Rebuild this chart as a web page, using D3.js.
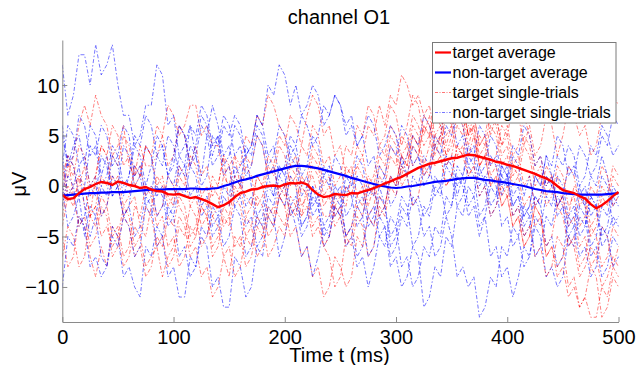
<!DOCTYPE html>
<html>
<head>
<meta charset="utf-8">
<script src="https://cdn.jsdelivr.net/npm/d3@7"></script>
<style>
  html, body { margin: 0; padding: 0; background: #fff; }
  svg { display: block; font-family: "Liberation Sans", Arial, sans-serif; }
</style>
</head>
<body>
<svg id="chart" width="638" height="365"></svg>
<script>
// ---------- data ----------
const title = "channel O1";
const xLabel = "Time t (ms)";
const yLabel = "\u03bcV";
const xTicks = [0, 100, 200, 300, 400, 500];
const yTicks = [-10, -5, 0, 5, 10];
const times = [0,5,10,15,20,25,30,35,40,45,50,55,60,65,70,75,80,85,90,95,
  100,105,110,115,120,125,130,135,140,145,150,155,160,165,170,175,180,185,190,195,
  200,205,210,215,220,225,230,235,240,245,250,255,260,265,270,275,280,285,290,295,
  300,305,310,315,320,325,330,335,340,345,350,355,360,365,370,375,380,385,390,395,
  400,405,410,415,420,425,430,435,440,445,450,455,460,465,470,475,480,485,490,495,500];

const targetAverage = [-0.9,-1.3,-1.2,-0.7,-0.3,-0.1,0.2,0.4,0.3,0.1,
  0.45,0.3,0.1,0.0,-0.2,-0.1,-0.35,-0.5,-0.55,-0.8,
  -0.85,-0.8,-1.0,-1.2,-1.1,-1.3,-1.5,-1.8,-2.1,-1.9,
  -1.6,-1.1,-0.7,-0.55,-0.35,-0.3,-0.1,0.0,0.05,-0.05,
  0.15,0.3,0.25,0.35,0.15,-0.4,-0.85,-1.1,-1.0,-0.8,
  -0.85,-0.9,-0.7,-0.75,-0.55,-0.4,-0.2,0.0,0.25,0.45,
  0.7,0.9,1.2,1.5,1.8,2.0,2.2,2.3,2.45,2.6,
  2.75,2.8,2.95,3.1,3.05,2.9,2.75,2.6,2.4,2.3,
  2.1,2.0,1.8,1.6,1.4,1.2,0.95,0.75,0.45,0.0,
  -0.4,-0.55,-0.7,-1.0,-1.25,-1.8,-2.2,-1.9,-1.5,-1.0,-0.6];
const nonTargetAverage = [-0.95,-0.9,-0.85,-0.8,-0.75,-0.7,-0.7,-0.65,-0.65,-0.6,
  -0.6,-0.6,-0.55,-0.5,-0.45,-0.4,-0.35,-0.35,-0.35,-0.3,
  -0.3,-0.3,-0.3,-0.25,-0.25,-0.3,-0.3,-0.25,-0.2,0.0,
  0.15,0.35,0.55,0.65,0.8,1.0,1.15,1.3,1.45,1.6,
  1.75,1.9,2.0,2.0,1.95,1.85,1.75,1.6,1.45,1.3,
  1.15,1.0,0.8,0.65,0.5,0.35,0.2,0.05,-0.05,-0.15,
  -0.2,-0.15,-0.05,0.0,0.1,0.2,0.3,0.4,0.45,0.5,
  0.6,0.7,0.75,0.8,0.8,0.7,0.6,0.55,0.45,0.4,
  0.3,0.2,0.1,0.0,-0.15,-0.3,-0.4,-0.5,-0.55,-0.6,
  -0.7,-0.75,-0.8,-0.85,-0.85,-0.85,-0.85,-0.85,-0.8,-0.75,-0.7];

const nonTarget1 = [12,7,9,13,13,10,14,11,12,14, 10,7,7,4,5,8,8,12,11,6, 7,3,4,6,3,1,5,8,6,3,
  4,1,2,3,0,-3,-2,1,-1,2, 1,-2,-1,-4,-3,0,-2,1,0,3, 2,-1,1,-2,-1,-4,-3,0,-2,1,
  0,3,1,-2,-1,-3,-2,1,0,3, 2,-1,1,-2,-1,2,0,3,2,-1, 1,-2,-1,-3,-2,1,0,3,1,-2, -1,-4,-3,0,-2,1,0,3,1,-2,-1];
const nonTarget2 = [6,2,4,5,2,6,5,1,3,-1, 0,-3,-2,2,1,4,3,-1,0,-3, -2,2,1,4,3,6,5,2,3,6,
  5,7,6,3,4,7,6,10,9,12, 11,8,10,7,8,10,9,6,7,9, 8,5,6,4,5,2,3,0,1,-2,
  -1,2,1,4,3,1,2,5,4,2, 3,0,1,3,2,-1,0,-3,-2,1, 0,3,2,-1,1,-2,-1,1,0,3, 2,4,3,0,1,4,3,6,5,3,4];
const nonTarget3 = [-10,-5,-6,-3,-4,-8,-7,-9,-8,-4, -5,-9,-8,-10,-11,-6,-7,-4,-5,-9, -8,-11,-11,-7,-8,-4,-5,-2,-3,0,
  -1,2,1,-2,-1,-4,-3,0,-1,2, 1,4,3,0,1,-2,-1,-4,-3,0, -1,-5,-4,-7,-6,-3,-4,-1,-2,-6,
  -5,-2,-3,1,0,3,2,-1,0,-3, -2,2,1,4,3,0,1,-2,-1,2, 1,-3,-2,-5,-4,-1,-2,-6,-5,-8, -7,-3,-4,-1,-2,-6,-5,-2,-3,0,-1];
const nonTarget4 = [-2,1,0,-4,-3,0,-1,3,2,-1, 0,-3,-2,-5,-4,-1,-2,-6,-5,-2, -3,-7,-6,-9,-8,-5,-6,-10,-9,-12,
  -12,-7,-8,-11,-10,-6,-7,-3,-4,-1, -2,1,0,-4,-3,0,-1,2,1,-3, -2,-5,-4,-2,-3,-7,-6,-3,-4,-8,
  -7,-10,-9,-6,-7,-12,-11,-8,-9,-5, -6,-2,-3,0,-1,-4,-3,0,-1,2, 1,-2,-1,-4,-3,-1,-2,1,0,-3, -2,-6,-5,-2,-3,-7,-6,-9,-8,-5,-6];
const nonTarget5 = [2,6,5,2,3,0,1,-3,-2,1, 0,4,3,0,1,-2,-1,3,2,5, 4,1,2,-1,0,-3,-2,-5,-4,-1,
  -2,1,0,4,3,6,5,2,3,6, 5,3,4,1,2,5,4,1,2,-1, 0,-3,-2,1,0,-3,-2,-5,-4,-7,
  -6,-3,-4,-1,-2,-5,-4,-7,-6,-3, -5,-9,-8,-10,-9,-13,-12,-9,-10,-6, -7,-4,-5,-8,-7,-4,-5,-9,-8,-10, -9,-5,-6,-3,-4,-1,-2,-5,-4,-1,-2];
const nonTarget6 = [5,2,3,7,6,3,4,0,1,4, 3,6,5,1,2,-1,0,-3,-2,1, 0,3,2,6,5,8,7,4,5,2,
  3,6,5,3,4,7,6,3,4,1, 2,5,4,7,6,4,5,8,7,9, 8,6,7,4,5,7,6,3,4,6,
  5,2,3,5,4,7,6,4,5,8, 7,4,5,2,3,6,5,2,3,0, 1,4,3,6,5,2,3,0,1,-2, -1,2,1,4,3,1,2,5,4,7,6];
const nonTarget7 = [0,-4,-3,-1,-5,-2,-3,-7,-8,-5, -6,-3,-4,-7,-6,-2,-3,0,-1,-4, -3,0,-1,2,1,-2,-1,-4,-3,-6,
  -5,-2,-3,-7,-6,-3,-4,-1,-2,1, 0,3,2,-1,0,-3,-2,-5,-4,-1, -2,1,0,3,2,-1,0,-3,-2,-5,
  -4,-1,-2,-6,-5,-2,-3,0,-1,2, 1,-2,-1,2,1,-3,-2,1,0,-4, -3,-6,-5,-2,-3,-7,-6,-3,-4,-1, -2,-5,-4,-7,-6,-9,-8,-4,-5,-8,-7];
const nonTarget8 = [-1,3,2,-1,0,4,3,6,5,2, 3,0,1,5,4,7,6,3,4,1, 2,6,5,2,3,0,1,5,4,7,
  6,3,4,1,2,5,4,1,2,-1, 0,-3,-2,-5,-4,-1,-2,-6,-5,-2, -3,0,-1,-4,-3,0,-1,2,1,4,
  3,6,5,2,3,0,1,4,3,6, 5,7,6,3,4,1,2,5,4,1, 2,-1,0,-3,-2,1,0,3,2,5, 4,1,2,-1,0,-3,-2,1,0,-4,-3];
const nonTarget9 = [3,-1,0,2,-2,-5,-3,0,-1,3, 2,-1,1,4,3,0,2,5,4,1, 3,6,5,2,4,7,6,3,5,1,
  2,-2,-1,-4,-3,-6,-5,-2,-3,-7, -5,-2,-4,-7,-6,-9,-7,-4,-5,-2, -3,-6,-5,-8,-7,-10,-8,-5,-6,-3,
  -4,-8,-7,-10,-9,-6,-7,-4,-5,-1, -2,1,0,-3,-2,-5,-3,-7,-6,-9, -8,-11,-9,-6,-7,-3,-4,-1,-2,1, 0,-3,-2,-5,-4,-1,-2,-6,-5,-3,-4];

const target1 = [-2,1,3,6,8,6,9,7,6,3, 4,6,2,1,4,2,2,3,5,8, 7,5,6,8,8,5,6,4,4,1,
  2,3,0,-1,-2,1,0,-3,-2,-3, -4,-1,-2,-3,0,1,-1,-3,-3,-1, -1,-2,1,2,3,0,1,4,3,6,
  5,3,4,7,6,4,5,8,7,5, 6,8,8,5,6,3,4,7,6,3, 4,1,2,5,4,1,2,-1,0,1, -2,-3,0,-1,-2,-5,-4,-1,-2,1,0];
const target2 = [-5,-8,-7,-3,-4,-7,-9,-6,-8,-4, -5,-2,-3,-6,-5,-8,-7,-6,-9,-7, -6,-3,-4,-7,-6,-9,-8,-11,-10,-7,
  -9,-5,-6,-3,-4,-1,-2,-5,-4,-1, -2,1,0,-3,-2,-5,-4,-6,-7,-10, -9,-5,-6,-3,-4,-7,-6,-2,-3,0,
  -1,2,1,-2,-1,2,1,4,3,0, 1,4,3,1,2,-1,0,-3,-2,0, -1,-4,-3,-6,-5,-2,-3,-7,-6,-9, -8,-11,-10,-12,-11,-13,-13,-10,-11,-8,-9];
const target3 = [1,3,-1,0,2,-1,0,-3,-2,1, 0,-3,-2,-1,-4,-5,-2,1,0,-1, -2,1,0,3,2,-1,0,-3,-2,1,
  0,3,2,5,4,7,6,9,8,6, 5,2,3,0,1,4,3,0,1,-2, -1,2,1,4,3,6,5,8,6,9,
  8,11,10,8,9,7,8,5,6,3, 4,7,6,3,5,2,3,6,5,2, 3,0,1,4,3,0,1,-2,-1,2, 1,-2,-1,-4,-3,0,-1,2,1,-2,-1];
const target4 = [-3,0,-1,-4,-3,-6,-5,-2,-3,-7, -6,-3,-4,-7,-6,-9,-8,-5,-6,-3, -4,-1,-2,-5,-4,-1,-2,1,0,3,
  2,-1,0,3,2,5,4,1,2,5, 4,7,6,4,7,9,8,5,6,3, 4,1,2,-1,0,-3,-2,1,0,3,
  2,5,4,2,3,6,5,8,7,4, 6,9,8,5,7,4,5,8,7,4, 6,3,4,7,5,2,3,0,1,-2, -1,-4,-3,-6,-5,-8,-7,-4,-5,-8,-6];
const target5 = [0,3,2,-1,0,-3,-2,1,0,3, 2,5,4,1,2,-1,0,-3,-2,1, 0,-2,-3,-6,-5,-2,-3,-7,-6,-3,
  -4,-1,-2,-5,-4,-7,-6,-3,-4,-1, -2,-5,-4,-7,-6,-9,-8,-11,-10,-7, -8,-10,-9,-5,-6,-3,-4,-1,-2,1,
  0,3,2,5,4,1,2,5,4,7, 6,3,4,1,2,5,4,1,2,-1, 0,-3,-2,-5,-4,-7,-6,-9,-8,-5, -6,-10,-9,-12,-11,-8,-9,-13,-12,-9,-10];
const target6 = [-1,2,1,4,3,0,1,4,3,6, 5,2,3,0,1,4,3,0,1,-2, -1,2,1,-2,-1,-4,-3,-6,-5,-2,
  -3,0,-1,2,1,-2,-1,2,1,4, 3,0,1,4,3,6,5,2,3,0, 1,4,3,6,5,8,7,4,5,8,
  7,4,6,9,8,5,7,4,5,8, 7,10,8,5,6,9,8,5,7,4, 5,8,7,4,6,3,4,7,6,3, 5,8,7,5,6,3,4,7,7,9,8];
const target7 = [-7,-4,-5,-8,-7,-3,-4,-1,-2,-5, -4,-7,-6,-2,-3,0,-1,-4,-3,-6, -5,-8,-7,-4,-5,-2,-3,0,-1,-4,
  -3,-6,-5,-8,-7,-4,-5,-2,-3,0, -1,2,1,-2,-1,2,1,-2,-1,-4, -3,-6,-5,-2,-3,0,-1,2,1,4,
  3,0,1,4,3,6,5,2,3,0, 1,4,3,6,5,2,3,0,1,-2, -1,2,1,-2,-1,-4,-3,-6,-5,-2, -3,-6,-5,-8,-7,-4,-5,-8,-7,-4,-5];
const target8 = [2,-1,0,1,-2,-3,1,4,3,0, 1,-2,-1,2,1,4,3,6,5,2, 3,6,5,2,4,1,2,-1,0,3,
  -2,1,0,-3,-2,1,0,3,2,-1, 0,-3,-2,1,0,3,2,-1,0,-3, -2,-5,-4,-1,-2,1,0,-3,-2,1,
  0,3,2,5,4,7,6,3,5,2, 3,6,5,8,7,4,5,2,3,6, 5,2,3,0,1,-2,-1,2,1,-2, -1,2,1,-2,-1,-4,-3,0,-1,2,1];
const target9 = [-4,-1,-2,1,0,-3,-2,-5,-4,-6, -5,-8,-7,-4,-5,-2,-3,-6,-5,-8, -7,-4,-5,-2,-3,-6,-5,-3,-4,-7,
  -6,-9,-8,-5,-6,-3,-4,-7,-6,-4, -5,-2,-3,0,-1,-4,-3,-6,-5,-2, -3,0,-1,2,1,-2,0,3,2,5,
  4,1,3,6,5,2,4,7,6,3, 5,8,7,4,6,2,3,0,1,-2, -1,-4,-3,-6,-5,-2,-3,-7,-6,-8, -7,-5,-6,-9,-8,-6,-7,-10,-9,-7,-8];

const nonTargetTrials = [nonTarget1, nonTarget2, nonTarget3, nonTarget4, nonTarget5, nonTarget6, nonTarget7, nonTarget8, nonTarget9];
const targetTrials = [target1, target2, target3, target4, target5, target6, target7, target8, target9];

const legendLabels = ["target average", "non-target average", "target single-trials", "non-target single-trials"];

// ---------- layout ----------
const svg = d3.select("#chart");
const pLeft = 62.3, pRight = 618.5, pTop = 40, pBottom = 322;
const x = d3.scaleLinear().domain([0, 500]).range([pLeft, pRight]);
const y = d3.scaleLinear().domain([-13.47, 14.46]).range([pBottom, pTop]);
const red = "#ff0000", blue = "#0000ff";
const dashDot = "4,2,1.5,2";

svg.append("defs").append("clipPath").attr("id", "plotclip")
  .append("rect").attr("x", pLeft).attr("y", pTop).attr("width", pRight - pLeft + 1).attr("height", pBottom - pTop);

const plot = svg.append("g").attr("clip-path", "url(#plotclip)");
const line = d3.line().x((d, i) => x(times[i])).y(d => y(d));

// single trials (interleaved)
for (let k = 0; k < Math.max(targetTrials.length, nonTargetTrials.length); k++) {
  if (nonTargetTrials[k]) plot.append("path").datum(nonTargetTrials[k]).attr("d", line)
    .attr("fill", "none").attr("stroke", blue).attr("stroke-width", 0.9)
    .attr("stroke-opacity", 0.6).attr("stroke-dasharray", dashDot);
  if (targetTrials[k]) plot.append("path").datum(targetTrials[k]).attr("d", line)
    .attr("fill", "none").attr("stroke", red).attr("stroke-width", 0.9)
    .attr("stroke-opacity", 0.55).attr("stroke-dasharray", dashDot);
}
// averages
plot.append("path").datum(nonTargetAverage).attr("d", line)
  .attr("fill", "none").attr("stroke", blue).attr("stroke-width", 2.2);
plot.append("path").datum(targetAverage).attr("d", line)
  .attr("fill", "none").attr("stroke", red).attr("stroke-width", 2.4);

// ---------- axes ----------
const axisColor = "#8a8a8a";
const xAxis = svg.append("g").attr("transform", `translate(0,${pBottom})`)
  .call(d3.axisBottom(x).tickValues(xTicks).tickSizeInner(-5).tickSizeOuter(0).tickPadding(13));
const yAxis = svg.append("g").attr("transform", `translate(${pLeft},0)`)
  .call(d3.axisLeft(y).tickValues(yTicks).tickSizeInner(-5).tickSizeOuter(0).tickPadding(4));
[xAxis, yAxis].forEach(a => {
  a.select(".domain").attr("stroke", axisColor).attr("stroke-width", 1);
  a.selectAll(".tick line").attr("stroke", axisColor);
  a.selectAll(".tick text").attr("fill", "#000").attr("font-size", 20)
    .attr("font-family", "'Liberation Sans', Arial, sans-serif");
});
xAxis.selectAll(".tick text").attr("dy", null).attr("y", 22);
yAxis.selectAll(".tick text").attr("dy", "0.35em").attr("x", -3);

// titles
svg.append("text").attr("x", 339).attr("y", 24).attr("text-anchor", "middle")
  .attr("font-size", 20).text(title);
svg.append("text").attr("x", 339.5).attr("y", 362).attr("text-anchor", "middle")
  .attr("font-size", 20).text(xLabel);
svg.append("text").attr("transform", "translate(26,184) rotate(-90)").attr("text-anchor", "middle")
  .attr("font-size", 20).text(yLabel);

// ---------- legend ----------
const lg = svg.append("g");
lg.append("rect").attr("x", 432.5).attr("y", 42.5).attr("width", 183.5).attr("height", 80.5)
  .attr("fill", "#fff").attr("stroke", "#7a7a7a").attr("stroke-width", 1);
const legendStyles = [
  { c: red, w: 2.2, o: 1, dash: null },
  { c: blue, w: 2.2, o: 1, dash: null },
  { c: red, w: 0.9, o: 0.6, dash: "3,1.5,1,1.5" },
  { c: blue, w: 0.9, o: 0.6, dash: "3,1.5,1,1.5" }
];
legendLabels.forEach((lab, i) => {
  const yy = 52.5 + i * 20;
  lg.append("line").attr("x1", 435).attr("x2", 451).attr("y1", yy).attr("y2", yy)
    .attr("stroke", legendStyles[i].c).attr("stroke-width", legendStyles[i].w)
    .attr("stroke-opacity", legendStyles[i].o)
    .attr("stroke-dasharray", legendStyles[i].dash);
  lg.append("text").attr("x", 452.5).attr("y", yy + 5.5).attr("font-size", 16).text(lab);
});
</script>
</body>
</html>
